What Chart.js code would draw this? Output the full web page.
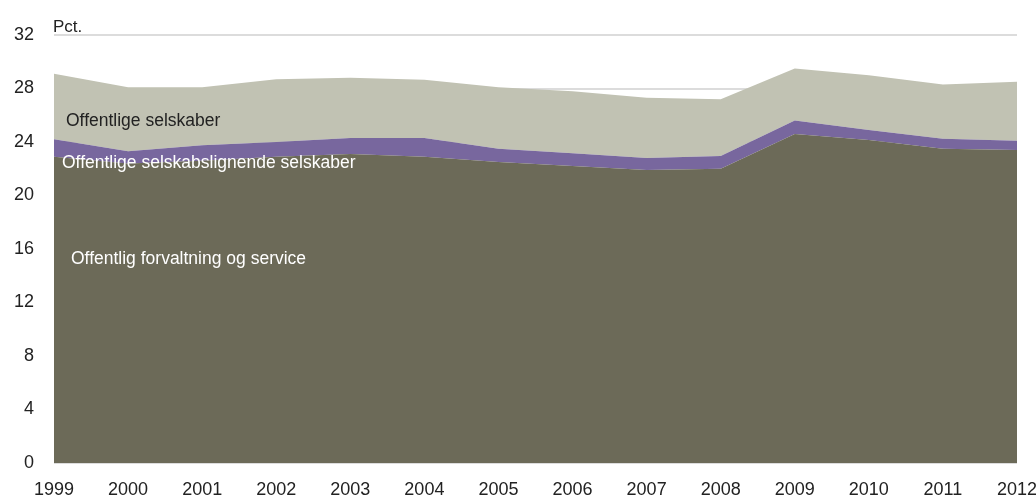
<!DOCTYPE html>
<html>
<head>
<meta charset="utf-8">
<script src="https://cdn.jsdelivr.net/npm/chart.js@4"></script>
<style>
  html,body{margin:0;padding:0;background:#fff;}
  #wrap{width:1036px;height:497px;position:relative;}
</style>
</head>
<body>
<div id="wrap"><canvas id="chart"></canvas></div>
<script>
// data
const years = ["1999","2000","2001","2002","2003","2004","2005","2006","2007","2008","2009","2010","2011","2012"];
// offentlig forvaltning og service
const forvaltning = [22.9,22.4,22.6,22.9,23.1,22.9,22.5,22.2,21.9,22.0,24.6,24.15,23.5,23.4];
// offentlige selskabslignende selskaber (band thickness)
const selskLign = [1.3,0.9,1.15,1.1,1.2,1.4,1.0,0.95,0.9,0.95,1.0,0.75,0.75,0.7];
// offentlige selskaber (band thickness)
const selskaber = [4.9,4.8,4.35,4.7,4.5,4.35,4.6,4.65,4.5,4.25,3.9,4.1,4.05,4.4];
const yTicks = [0,4,8,12,16,20,24,28,32];

const font = "'Liberation Sans', Arial, sans-serif";

// text labels put on the areas
const labelsPlugin = {
  id: "areaLabels",
  afterDatasetsDraw(chart) {
    let c = chart.ctx;
    c.save();
    c.textBaseline = "middle";
    c.textAlign = "left";
    c.font = "17px " + font;
    c.fillStyle = "#222";
    c.fillText("Pct.", 53, 27);
    c.font = "17.5px " + font;
    c.fillText("Offentlige selskaber", 66, 121);
    c.fillStyle = "#fff";
    c.fillText("Offentlige selskabslignende selskaber", 62, 163);
    c.fillText("Offentlig forvaltning og service", 71, 259);
    c.restore();
  }
};

const ctx = document.getElementById("chart").getContext("2d");
const chart = new Chart(ctx, {
  type: "line",
  data: {
    labels: years,
    datasets: [
      {label:"Offentlig forvaltning og service", data: forvaltning, fill:"origin",
       backgroundColor:"#6c6a58", borderWidth:0, pointRadius:0, tension:0},
      {label:"Offentlige selskabslignende selskaber", data: selskLign, fill:"-1",
       backgroundColor:"#78679e", borderWidth:0, pointRadius:0, tension:0},
      {label:"Offentlige selskaber", data: selskaber, fill:"-1",
       backgroundColor:"#c1c2b3", borderWidth:0, pointRadius:0, tension:0}
    ]
  },
  options: {
    responsive: true,
    maintainAspectRatio: false,
    animation: false,
    layout: {padding:{top:35, right:0, left:0, bottom:0}},
    plugins: {legend:{display:false}, tooltip:{enabled:false}},
    scales: {
      x: {
        offset: false,
        grid: {display:false, drawTicks:false},
        border: {display:false},
        ticks: {color:"#222", font:{family:font, size:18}, padding:16, maxRotation:0, autoSkip:false},
        afterFit: s => { s.height = 34; s.paddingRight = 19; s.paddingLeft = 0; }
      },
      y: {
        stacked: true,
        min: 0, max: 32,
        afterBuildTicks: s => { s.ticks = yTicks.map(v => ({value:v})); },
        grid: {color:"#dcdcdc", lineWidth:2, drawTicks:false},
        border: {display:false},
        ticks: {color:"#222", font:{family:font, size:18}, padding:20},
        afterFit: s => { s.width = 54; }
      }
    }
  },
  plugins: [labelsPlugin]
});
</script>
</body>
</html>
